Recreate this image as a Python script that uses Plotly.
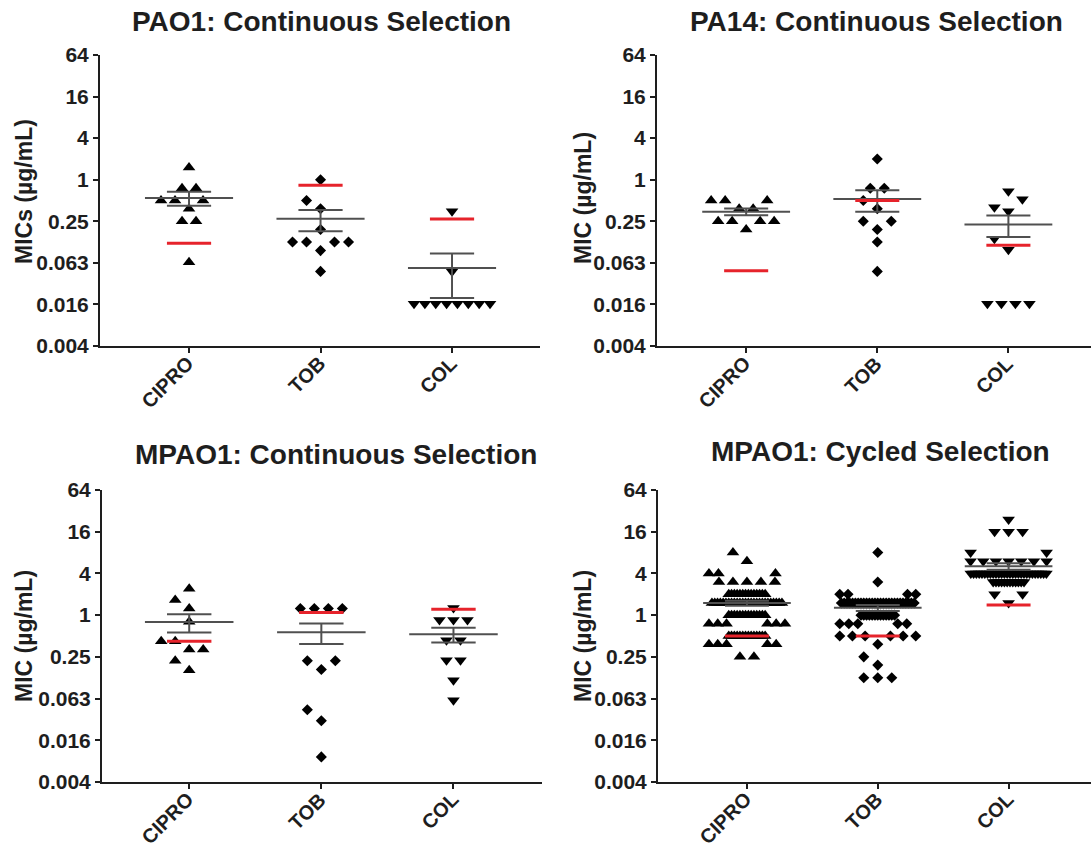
import numpy as np
import plotly.graph_objects as go

W, H = 1091, 851
CATS = ["CIPRO", "TOB", "COL"]
TICK_VALS = [2 ** -8, 2 ** -6, 2 ** -4, 2 ** -2, 1, 4, 16, 64]
TICK_TEXT = ["0.004", "0.016", "0.063", "0.25", "1", "4", "16", "64"]

# ---------------- data (MIC, ug/mL) ----------------
# PAO1: continuous selection
pao1_cipro = [1.5, 0.75, 0.75, 0.5, 0.5, 0.5, 0.38, 0.25, 0.25, 0.064]
pao1_tob = [1.0, 0.5, 0.38, 0.19, 0.125, 0.125, 0.125, 0.125, 0.094, 0.047]
pao1_col = [0.35, 0.047, 0.016, 0.016, 0.016, 0.016, 0.016, 0.016, 0.016, 0.016]
pao1_ancestor = [0.12, 0.83, 0.27]

# PA14: continuous selection
pa14_cipro = [0.5, 0.5, 0.5, 0.38, 0.38, 0.25, 0.25, 0.25, 0.25, 0.19]
pa14_tob = [2.0, 0.75, 0.75, 0.5, 0.38, 0.25, 0.25, 0.19, 0.125, 0.047]
pa14_col = [0.68, 0.52, 0.40, 0.35, 0.14, 0.097, 0.016, 0.016, 0.016, 0.016]
pa14_ancestor = [0.048, 0.5, 0.112]

# MPAO1: continuous selection
mpao1c_cipro = [2.4, 1.65, 1.25, 0.8, 0.42, 0.42, 0.32, 0.32, 0.22, 0.16]
mpao1c_tob = [1.25, 1.25, 1.25, 1.25, 0.22, 0.22, 0.164, 0.043, 0.03, 0.009]
mpao1c_col = [1.27, 0.85, 0.85, 0.85, 0.435, 0.435, 0.224, 0.224, 0.115, 0.059]
mpao1c_ancestor = [0.42, 1.09, 1.22]

# MPAO1: cycled selection  (value, count)
mpao1y_cipro_vals = [8, 6, 4, 3, 2, 1.5, 1, 0.75, 0.5, 0.38, 0.25]
mpao1y_cipro_counts = [1, 1, 3, 5, 14, 26, 14, 6, 14, 5, 2]
mpao1y_tob_vals = [8, 3, 2, 1.5, 1, 0.75, 0.5, 0.38, 0.25, 0.19, 0.125]
mpao1y_tob_counts = [1, 1, 4, 27, 13, 5, 6, 1, 1, 1, 3]
mpao1y_col_vals = [24, 16, 8, 6, 4, 3, 2, 1.5]
mpao1y_col_counts = [1, 3, 2, 7, 28, 12, 2, 1]
mpao1y_ancestor = [0.5, 0.5, 1.4]


def expand(vals, counts):
    out = []
    for v, c in zip(vals, counts):
        out += [v] * c
    return out


# ---------------- layout geometry (pixels) ----------------
panels = [
    dict(title="PAO1: Continuous Selection", ytitle="MICs (µg/mL)",
         data=[pao1_cipro, pao1_tob, pao1_col], red=pao1_ancestor,
         xdom=(100, 540), ydom=(55, 346), xr=(-0.677, 2.669),
         tpos=(321, 21), ypos=(24, 192)),
    dict(title="PA14: Continuous Selection", ytitle="MIC (µg/mL)",
         data=[pa14_cipro, pa14_tob, pa14_col], red=pa14_ancestor,
         xdom=(657, 1091), ydom=(55, 346), xr=(-0.68, 2.63),
         tpos=(876, 21), ypos=(583, 198)),
    dict(title="MPAO1: Continuous Selection", ytitle="MIC (µg/mL)",
         data=[mpao1c_cipro, mpao1c_tob, mpao1c_col], red=mpao1c_ancestor,
         xdom=(102, 542), ydom=(490, 782), xr=(-0.66, 2.67),
         tpos=(336, 454), ypos=(24, 636)),
    dict(title="MPAO1: Cycled Selection", ytitle="MIC (µg/mL)",
         data=[expand(mpao1y_cipro_vals, mpao1y_cipro_counts),
               expand(mpao1y_tob_vals, mpao1y_tob_counts),
               expand(mpao1y_col_vals, mpao1y_col_counts)],
         red=mpao1y_ancestor,
         xdom=(658, 1091), ydom=(490, 782), xr=(-0.68, 2.63),
         tpos=(880, 452), ypos=(583, 636)),
]

SYMBOLS = ["triangle-up", "diamond", "triangle-down"]
SIZES = [11, 8.5, 11]
FONT = "Liberation Sans, Arial, sans-serif"
INK = "#1e1e1e"
GREY = "#505050"
RED = "#e6232b"
XLAB_SIZE = 20
# approximate bold Arial advance widths (em) used to place rotated category labels
CHAR_EM = {"C": 0.722, "I": 0.278, "P": 0.667, "R": 0.722, "O": 0.778,
           "T": 0.611, "B": 0.722, "L": 0.611}


def swarm(values, ppl, cw=14.0, ch=12.0, dense_n=10, dense_sp=2.8, maxhalf=38.0):
    vals = np.asarray(values, float)
    n = len(vals)
    off = np.zeros(n)
    groups = {}
    for i, v in enumerate(vals):
        groups.setdefault(float(v), []).append(i)
    placed = []

    for v, idx in groups.items():
        if len(idx) >= dense_n:
            k = len(idx)
            y = np.log2(v) * ppl
            for j, i in enumerate(idx):
                off[i] = (j - (k - 1) / 2) * dense_sp
                placed.append((off[i], y))

    def free(x, y):
        for px, py in placed:
            if abs(px - x) < cw - 1e-9 and abs(py - y) < ch - 1e-9:
                return False
        return True

    for v in sorted(groups):
        idx = groups[v]
        if len(idx) >= dense_n:
            continue
        k = len(idx)
        y = np.log2(v) * ppl
        sym = [(j - (k - 1) / 2) * cw for j in range(k)]
        if all(free(x, y) for x in sym):
            for i, x in zip(idx, sym):
                off[i] = x
                placed.append((x, y))
        else:
            for i in idx:
                d = 0.0
                found = None
                while found is None:
                    for c in ([0.0] if d == 0 else [-d, d]):
                        if free(c, y):
                            found = c
                            break
                    d += 0.5
                off[i] = found
                placed.append((found, y))

    for v, idx in groups.items():
        m = max(abs(off[i]) for i in idx)
        if m > maxhalf:
            s = maxhalf / m
            for i in idx:
                off[i] *= s
    return off


fig = go.Figure()
layout = dict(width=W, height=H, margin=dict(l=0, r=0, t=0, b=0, autoexpand=False),
              paper_bgcolor="white", plot_bgcolor="white", showlegend=False,
              annotations=[])

ymin, ymax = np.log10(2 ** -8), np.log10(64)

for p_i, p in enumerate(panels):
    ax = "" if p_i == 0 else str(p_i + 1)
    xname, yname = "x" + ax, "y" + ax
    x0, x1 = p["xdom"]
    y0, y1 = p["ydom"]
    ppc = (x1 - x0) / (p["xr"][1] - p["xr"][0])
    ppl = (y1 - y0) / 14.0

    mean_x, mean_y, sem_x, sem_y, red_x, red_y = [], [], [], [], [], []
    for c, vals in enumerate(p["data"]):
        offs = swarm(vals, ppl)
        fig.add_trace(go.Scatter(
            x=c + offs / ppc, y=vals, mode="markers", xaxis=xname, yaxis=yname,
            marker=dict(symbol=SYMBOLS[c], size=SIZES[c], color="black",
                        line=dict(width=0)),
            hoverinfo="skip"))
        arr = np.asarray(vals, float)
        m = arr.mean()
        se = arr.std(ddof=1) / np.sqrt(len(arr))
        mean_x += [c - 0.335, c + 0.335, None]
        mean_y += [m, m, None]
        lo, hi = m - se, m + se
        w = 0.168
        if lo > 0:
            sem_x += [c - w, c + w, None, c, c, None]
            sem_y += [lo, lo, None, lo, m, None]
        sem_x += [c - w, c + w, None, c, c, None]
        sem_y += [hi, hi, None, m, hi, None]
        red_x += [c - w, c + w, None]
        red_y += [p["red"][c], p["red"][c], None]

    fig.add_trace(go.Scatter(x=sem_x, y=sem_y, mode="lines", xaxis=xname, yaxis=yname,
                             line=dict(color=GREY, width=2), hoverinfo="skip"))
    fig.add_trace(go.Scatter(x=mean_x, y=mean_y, mode="lines", xaxis=xname, yaxis=yname,
                             line=dict(color=GREY, width=2), hoverinfo="skip"))
    fig.add_trace(go.Scatter(x=red_x, y=red_y, mode="lines", xaxis=xname, yaxis=yname,
                             line=dict(color=RED, width=3), hoverinfo="skip"))

    layout["xaxis" + ax] = dict(
        domain=[x0 / W, x1 / W], anchor=yname, range=list(p["xr"]), automargin=False,
        tickmode="array", tickvals=[0, 1, 2], ticktext=CATS, showticklabels=False,
        showline=True, linecolor=INK, linewidth=2, ticks="outside", ticklen=5,
        tickwidth=2, tickcolor=INK, showgrid=False, zeroline=False, fixedrange=True)
    layout["yaxis" + ax] = dict(
        domain=[1 - y1 / H, 1 - y0 / H], anchor=xname, type="log", range=[ymin, ymax],
        automargin=False,
        tickmode="array", tickvals=TICK_VALS, ticktext=TICK_TEXT,
        showline=True, linecolor=INK, linewidth=2, ticks="outside", ticklen=5,
        tickwidth=2, tickcolor=INK, showgrid=False, zeroline=False,
        tickfont=dict(family=FONT, size=21, color=INK, weight="bold"), fixedrange=True)

    # rotated category labels: right end sits just below each tick
    for c, name in enumerate(CATS):
        L = sum(CHAR_EM[ch] for ch in name) * XLAB_SIZE
        h = L / 2 * 0.7071
        cy_px = y1 + 14 + h
        layout["annotations"].append(dict(
            text=name, x=c, xref=xname, xshift=1 - h,
            y=1 - cy_px / H, yref="paper", textangle=-45, borderpad=0,
            xanchor="center", yanchor="middle", showarrow=False,
            font=dict(family=FONT, size=XLAB_SIZE, color=INK, weight="bold")))

    layout["annotations"].append(dict(
        text=p["title"], x=p["tpos"][0] / W, y=1 - p["tpos"][1] / H,
        xref="paper", yref="paper", xanchor="center", yanchor="middle", showarrow=False,
        font=dict(family=FONT, size=28, color=INK, weight="bold")))
    layout["annotations"].append(dict(
        text=p["ytitle"], x=p["ypos"][0] / W, y=1 - p["ypos"][1] / H, textangle=-90,
        xref="paper", yref="paper", xanchor="center", yanchor="middle", showarrow=False,
        font=dict(family=FONT, size=23, color=INK, weight="bold")))

fig.update_layout(**layout)
fig.write_html("out.html")
